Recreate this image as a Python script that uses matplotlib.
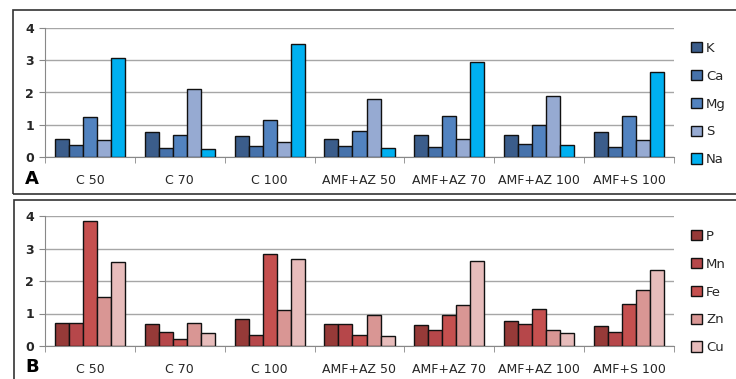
import numpy as np
import matplotlib
matplotlib.use('Agg')
import matplotlib.pyplot as plt
from matplotlib.patches import Rectangle

treatments = ['C 50', 'C 70', 'C 100', 'AMF+AZ 50', 'AMF+AZ 70', 'AMF+AZ 100', 'AMF+S 100']

# panel A - macro elements
elements_a = ['K', 'Ca', 'Mg', 'S', 'Na']
K = [0.56, 0.79, 0.66, 0.56, 0.69, 0.69, 0.76]
Ca = [0.37, 0.27, 0.35, 0.35, 0.32, 0.41, 0.31]
Mg = [1.23, 0.69, 1.15, 0.80, 1.26, 0.99, 1.26]
S = [0.53, 2.10, 0.48, 1.79, 0.55, 1.90, 0.52]
Na = [3.06, 0.24, 3.49, 0.27, 2.96, 0.38, 2.65]
colors_a = ['#3b5d8b', '#4672ab', '#5283c0', '#96aad2', '#00b0f0']

# panel B - micro elements
elements_b = ['P', 'Mn', 'Fe', 'Zn', 'Cu']
P = [0.72, 0.69, 0.83, 0.69, 0.66, 0.76, 0.62]
Mn = [0.72, 0.43, 0.34, 0.69, 0.48, 0.69, 0.44]
Fe = [3.86, 0.23, 2.84, 0.34, 0.94, 1.15, 1.29]
Zn = [1.50, 0.72, 1.12, 0.96, 1.25, 0.48, 1.72]
Cu = [2.59, 0.41, 2.69, 0.31, 2.62, 0.41, 2.35]
colors_b = ['#963a38', '#b6474a', '#c5504f', '#d99694', '#e7bcbb']

W, H = 736, 379
fig = plt.figure(figsize=(W / 100, H / 100), dpi=100)
txt = '#262626'


def px(x0, y0, x1, y1):
    # pixel box (top-left origin) -> figure fraction rect
    return [x0 / W, 1 - y1 / H, (x1 - x0) / W, (y1 - y0) / H]


def panel(rect, series, names, colors, letter, letter_y, leg_top):
    ax = fig.add_axes(rect)
    x = np.arange(len(treatments))
    bw = 0.156
    for i, (vals, c) in enumerate(zip(series, colors)):
        ax.bar(x + (i - 2) * bw, vals, bw, color=c, edgecolor='#111111',
               linewidth=1.0, label=names[i], zorder=3)
    ax.set_xlim(-0.5, len(treatments) - 0.5)
    ax.set_ylim(0, 4)
    ax.set_yticks([0, 1, 2, 3, 4])
    ax.set_xticks(x)
    ax.set_xticklabels(treatments, fontsize=9, color=txt)
    ax.set_xticks(np.arange(-0.5, len(treatments)), minor=True)
    ax.tick_params(axis='x', which='major', length=0, pad=12)
    ax.tick_params(axis='x', which='minor', length=4, color='#888888')
    ax.tick_params(axis='y', length=4, color='#888888', labelsize=9,
                   labelcolor=txt, pad=4)
    for lab in ax.get_yticklabels():
        lab.set_fontweight('bold')
    ax.grid(axis='y', color='#a6a6a6', linewidth=1.0, zorder=0)
    for s in ['top', 'right']:
        ax.spines[s].set_visible(False)
    ax.spines['left'].set_color('#888888')
    ax.spines['bottom'].set_color('#888888')
    leg = fig.legend(handles=ax.containers, labels=names, loc='upper left',
                     bbox_to_anchor=(691 / W, 1 - leg_top / H),
                     frameon=False, fontsize=9.5, handlelength=0.8,
                     handleheight=0.8, handletextpad=0.35, labelspacing=1.12,
                     borderpad=0, borderaxespad=0)
    for t in leg.get_texts():
        t.set_color(txt)
    fig.text(25 / W, 1 - letter_y / H, letter, fontsize=13, fontweight='bold',
             ha='left', va='center', color='black')
    return ax


# panel frames
fig.add_artist(Rectangle((13 / W, 1 - 194 / H), (W + 5 - 13) / W, 184 / H,
                         transform=fig.transFigure, fill=False,
                         edgecolor='#333333', linewidth=1.2))
fig.add_artist(Rectangle((14 / W, 1 - (H + 5) / H), (W + 5 - 14) / W, (H + 5 - 200) / H,
                         transform=fig.transFigure, fill=False,
                         edgecolor='#333333', linewidth=1.2))

panel(px(45, 28, 674, 157), [K, Ca, Mg, S, Na], elements_a, colors_a, 'A', 179, 42)
panel(px(45, 216, 674, 346), [P, Mn, Fe, Zn, Cu], elements_b, colors_b, 'B', 367, 230)

fig.savefig('out.png', dpi=100)
